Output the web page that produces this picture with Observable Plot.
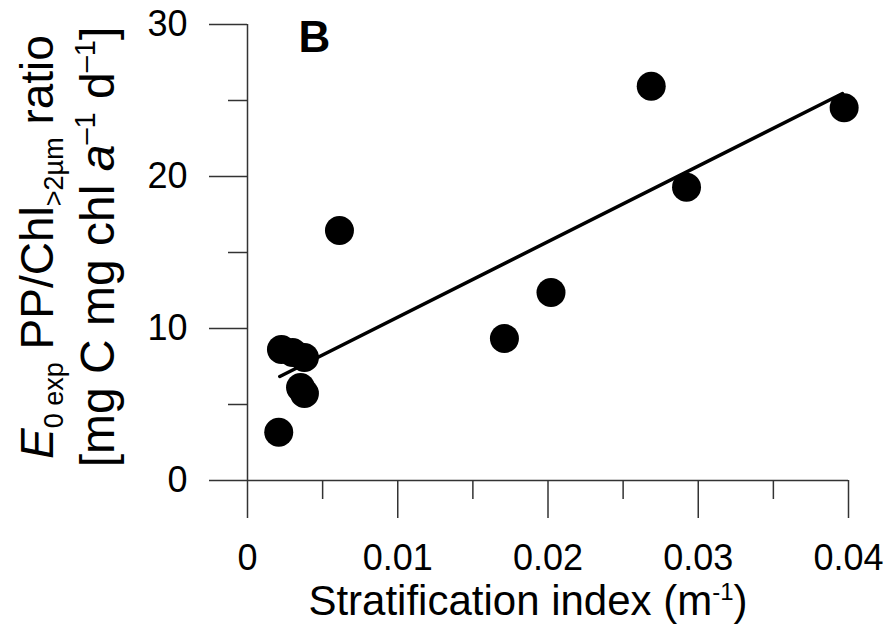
<!DOCTYPE html>
<html>
<head>
<meta charset="utf-8">
<script src="https://cdn.jsdelivr.net/npm/d3@7"></script>
<script src="https://cdn.jsdelivr.net/npm/@observablehq/plot@0.6"></script>
<style>
  html, body { margin: 0; padding: 0; background: #fff; }
  #chart svg { display: block; }
</style>
</head>
<body>
<div id="chart"></div>
<script>
// Data
const stratIndex = [0.00208, 0.00226, 0.00300, 0.00379, 0.00353, 0.00379, 0.00612, 0.0171, 0.0202, 0.02687, 0.02922, 0.03971];
const ppChlRatio = [3.18, 8.62, 8.42, 8.09, 6.12, 5.72, 16.45, 9.34, 12.37, 25.94, 19.30, 24.52];
const fitX = [0.00215, 0.0396];
const fitY = [6.84, 25.46];
const xMajorTicks = [0, 0.01, 0.02, 0.03, 0.04];
const xTickLabels = ["0", "0.01", "0.02", "0.03", "0.04"];
const xMinorTicks = [0.005, 0.015, 0.025, 0.035];
const yMajorTicks = [0, 10, 20, 30];
const yTickLabels = ["0", "10", "20", "30"];
const yMinorTicks = [5, 15, 25];
const panelLabel = "B";

const points = stratIndex.map((x, i) => ({x, y: ppChlRatio[i]}));
const fit = fitX.map((x, i) => ({x, y: fitY[i]}));

const font = "'Liberation Sans', Arial, Helvetica, sans-serif";
const axisColor = "#333";

const chart = Plot.plot({
  width: 891,
  height: 630,
  marginLeft: 247,
  marginRight: 43,
  marginTop: 24,
  marginBottom: 150,
  style: {fontFamily: font, background: "white", color: "black"},
  x: {domain: [0, 0.04]},
  y: {domain: [0, 30]},
  marks: [
    Plot.ruleY([0], {stroke: axisColor, strokeWidth: 1.5}),
    Plot.ruleX([0], {stroke: axisColor, strokeWidth: 1.5}),
    Plot.axisX(xMajorTicks, {anchor: "bottom", tickSize: 38, tickPadding: 26, fontSize: 36, fill: "black", stroke: axisColor, strokeWidth: 1.5, label: null,
      tickFormat: d => xTickLabels[xMajorTicks.indexOf(d)]}),
    Plot.axisX(xMinorTicks, {anchor: "bottom", tickSize: 19, stroke: axisColor, strokeWidth: 1.5, label: null, tickFormat: () => ""}),
    Plot.axisY(yMajorTicks, {anchor: "left", tickSize: 38, tickPadding: 22, fontSize: 36, fill: "black", stroke: axisColor, strokeWidth: 1.5, label: null,
      tickFormat: d => yTickLabels[yMajorTicks.indexOf(d)]}),
    Plot.axisY(yMinorTicks, {anchor: "left", tickSize: 19, stroke: axisColor, strokeWidth: 1.5, label: null, tickFormat: () => ""}),
    Plot.line(fit, {x: "x", y: "y", stroke: "black", strokeWidth: 3.5}),
    Plot.dot(points, {x: "x", y: "y", r: 14.5, fill: "black", stroke: "none"}),
    Plot.text([panelLabel], {frameAnchor: "top-left", dx: 51, dy: -4, text: d => d, fontSize: 44, fontWeight: "bold", textAnchor: "start", lineAnchor: "top", fill: "black"})
  ]
});

document.getElementById("chart").appendChild(chart);

const svg = d3.select(chart);

// X axis title
const xt = svg.append("text")
  .attr("x", 528).attr("y", 615)
  .attr("text-anchor", "middle")
  .attr("font-family", font).attr("font-size", 42).attr("fill", "black");
xt.append("tspan").text("Stratification index (m");
xt.append("tspan").attr("font-size", 24).attr("dy", -15).text("-1");
xt.append("tspan").attr("dy", 15).text(")");

// Y axis title, line 1
const y1 = svg.append("text")
  .attr("transform", "translate(53,247) rotate(-90)")
  .attr("text-anchor", "middle")
  .attr("font-family", font).attr("font-size", 46).attr("fill", "black");
y1.append("tspan").attr("font-style", "italic").text("E");
y1.append("tspan").attr("font-size", 27).attr("dy", 10).text("0 exp");
y1.append("tspan").attr("dy", -10).text(" PP/Chl");
y1.append("tspan").attr("font-size", 27).attr("dy", 10).text(">2µm");
y1.append("tspan").attr("dy", -10).text(" ratio");

// Y axis title, line 2
const y2 = svg.append("text")
  .attr("transform", "translate(114,247) rotate(-90)")
  .attr("text-anchor", "middle")
  .attr("font-family", font).attr("font-size", 48).attr("fill", "black");
y2.append("tspan").text("[mg C mg chl ");
y2.append("tspan").attr("font-style", "italic").text("a");
y2.append("tspan").attr("font-size", 29).attr("dy", -19).text("–1");
y2.append("tspan").attr("dy", 19).text(" d");
y2.append("tspan").attr("font-size", 29).attr("dy", -19).text("–1");
y2.append("tspan").attr("dy", 19).text("]");
</script>
</body>
</html>
